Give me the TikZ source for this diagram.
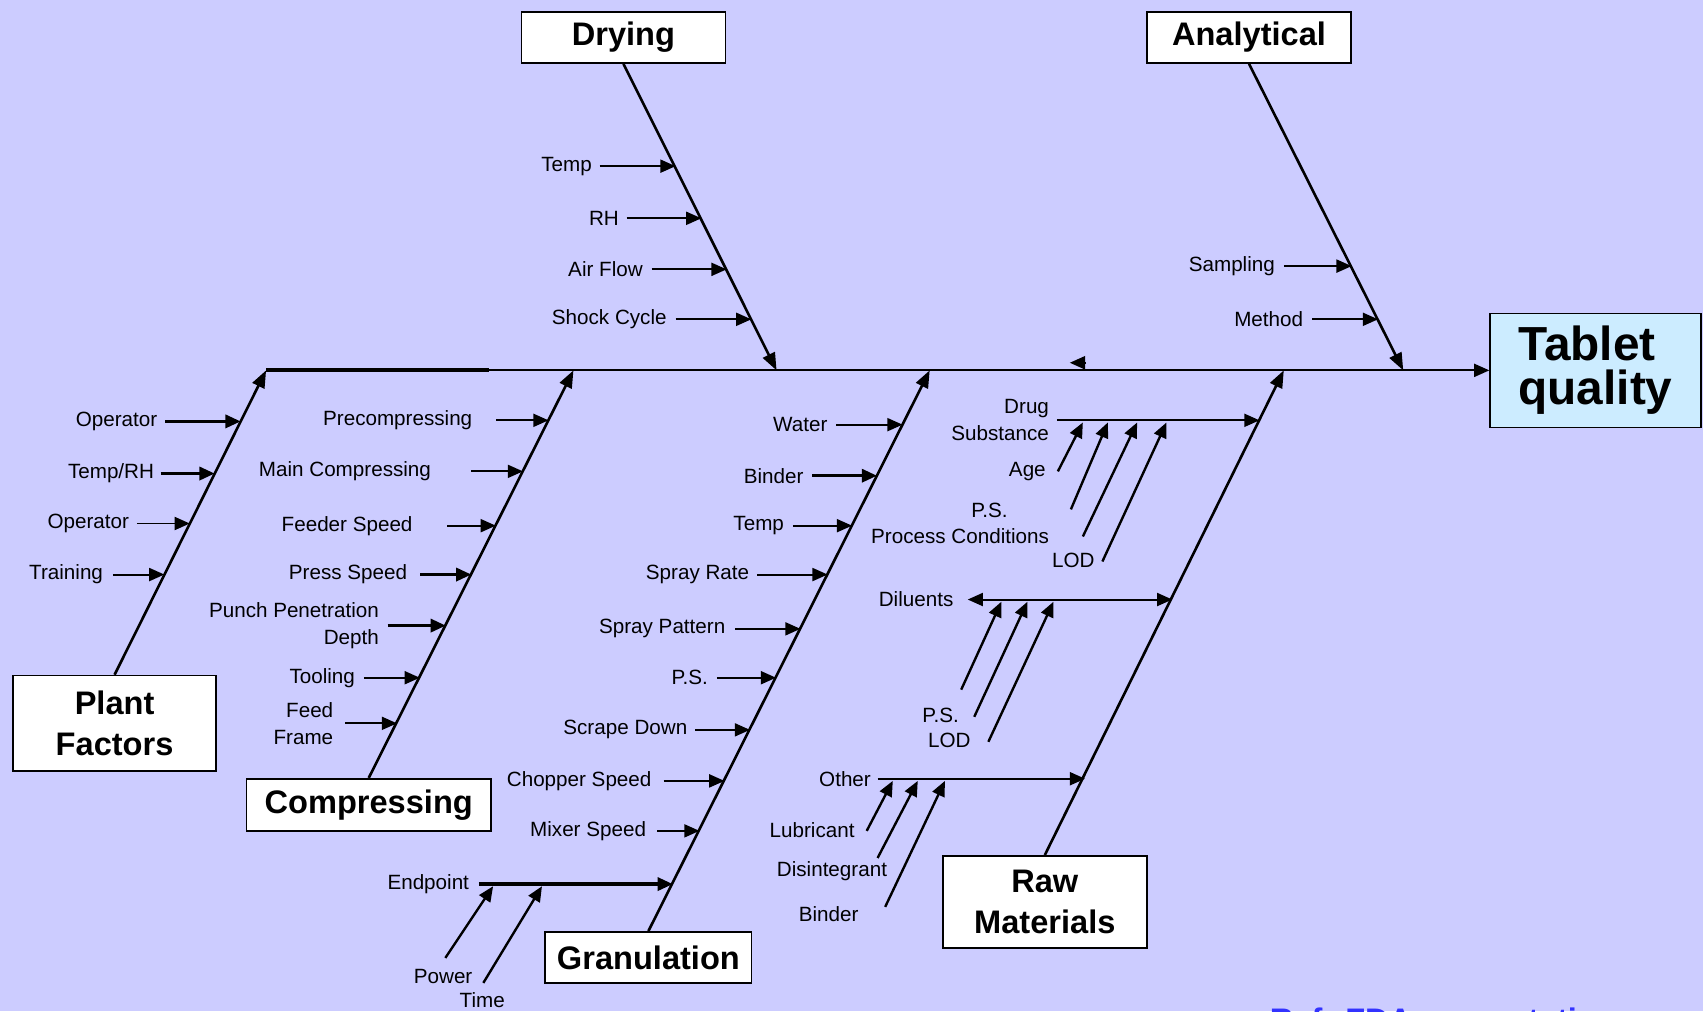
\documentclass[tikz,border=0pt]{standalone}
\usepackage{fontspec}
\setmainfont{Liberation Sans}
\usetikzlibrary{arrows.meta, calc}
\definecolor{bgblue}{RGB}{204,204,255}
\definecolor{goalblue}{RGB}{204,236,255}
\definecolor{refblue}{RGB}{51,51,255}

\begin{document}
\begin{tikzpicture}[
    x=1pt, y=-1pt,
    >={Triangle[length=14pt,width=12pt]},
    arr/.style={->, line width=1.8pt},
    harr/.style={->, line width=3pt},
    darr/.style={<->, line width=1.8pt},
    bone/.style={-{Triangle[length=16pt,width=12pt]}, line width=2.4pt},
    cat/.style={draw, line width=1.5pt, fill=white, inner sep=0pt,
                font=\fontsize{30}{38}\selectfont\bfseries, align=center},
    lbl/.style={inner sep=0pt, font=\fontsize{19}{25}\selectfont, align=right},
]
\useasboundingbox (0,0) rectangle (1568,931);
\fill[bgblue] (0,0) rectangle (1568,931);

% effect and categories
\node[draw, line width=1.5pt, fill=goalblue, minimum width=194pt, minimum height=105pt,
      font=\fontsize{44}{41}\selectfont\bfseries, align=left] (tq) at (1469,341) {Tablet\\quality};
\node[cat, minimum width=188pt, minimum height=47pt] (dr) at (574,34.5) {Drying};
\node[cat, minimum width=188pt, minimum height=47pt] (an) at (1150,34.5) {Analytical};
\node[cat, minimum width=187pt, minimum height=88pt] (pf) at (105.5,666) {Plant\\Factors};
\node[cat, minimum width=225pt, minimum height=48pt] (co) at (339.5,741) {Compressing};
\node[cat, minimum width=190pt, minimum height=47pt] (gr) at (597,881.5) {Granulation};
\node[cat, minimum width=188pt, minimum height=85pt] (rm) at (962,830.5) {Raw\\Materials};

% spine and bones
\coordinate (pf-top) at (245,341);
\coordinate (co-top) at (528,341);
\coordinate (dr-top) at (715,341);
\coordinate (gr-top) at (856,341);
\coordinate (rm-top) at (1182,341);
\coordinate (an-top) at (1292,341);
\coordinate (sp-end) at (450,341);
\draw[arr] (pf-top) -- (tq.west);
\draw[line width=3.5pt] (pf-top) -- (sp-end);
\coordinate (sp-a) at (1000,334);
\coordinate (sp-b) at (985,334);
\draw[arr] (sp-a) -- (sp-b);
\draw[bone] (pf.north) -- (pf-top);
\draw[bone] (co.north) -- (co-top);
\draw[bone] (gr.north) -- (gr-top);
\draw[bone] (rm.north) -- (rm-top);
\draw[bone] (dr.south) -- (dr-top);
\draw[bone] (an.south) -- (an-top);

% Plant Factors
\foreach \n/\txt/\xl/\xs/\y/\st in {a/Operator/145/152/388/harr, b/{Temp/RH}/142/148/436/harr,
    c/Operator/119/126/482/arr, d/Training/95/104/529/arr} {
  \node[lbl, anchor=east] (pfl-\n) at (\xl,\y) {\txt};
  \pgfmathsetmacro{\bx}{245-(\y-341)*0.49822}
  \coordinate (pf-\n) at (\bx,\y);
  \draw[\st, shorten <=\xs-\xl] (pfl-\n.east) -- (pf-\n);
}

% Compressing
\foreach \n/\txt/\xl/\xs/\y/\st in {a/Precompressing/435/457/387/arr,
    b/Main Compressing/397/434/434/arr, c/Feeder Speed/380/412/484/arr,
    d/Press Speed/375/387/529/harr, e/{Punch Penetration\\Depth}/349/357/576/harr,
    f/Tooling/327/335/624/arr, g/{Feed\\Frame}/307/318/666/arr} {
  \node[lbl, anchor=east] (col-\n) at (\xl,\y) {\txt};
  \pgfmathsetmacro{\bx}{528-(\y-341)/2}
  \coordinate (co-\n) at (\bx,\y);
  \draw[\st, shorten <=\xs-\xl] (col-\n.east) -- (co-\n);
}

% Drying
\foreach \n/\txt/\xl/\xs/\y in {a/Temp/545/552/153, b/RH/570/577/201,
    c/Air Flow/592/600/248, d/Shock Cycle/614/622/294} {
  \node[lbl, anchor=east] (drl-\n) at (\xl,\y) {\txt};
  \pgfmathsetmacro{\bx}{715-(341-\y)*0.4947}
  \coordinate (dr-\n) at (\bx,\y);
  \draw[arr, shorten <=\xs-\xl] (drl-\n.east) -- (dr-\n);
}

% Analytical
\foreach \n/\txt/\xl/\xs/\y in {a/Sampling/1174/1182/245, b/Method/1200/1208/294} {
  \node[lbl, anchor=east] (anl-\n) at (\xl,\y) {\txt};
  \pgfmathsetmacro{\bx}{1292-(341-\y)*0.4947}
  \coordinate (an-\n) at (\bx,\y);
  \draw[arr, shorten <=\xs-\xl] (anl-\n.east) -- (an-\n);
}

% Granulation
\foreach \n/\txt/\xl/\xs/\y/\st in {a/Water/762/770/391/arr, b/Binder/740/748/438/harr,
    c/Temp/722/730/484/arr, d/Spray Rate/690/697/529/arr, e/Spray Pattern/668/677/579/arr,
    f/P.S./652/660/624/arr, g/Scrape Down/633/640/672/arr, h/Chopper Speed/600/611/719/arr,
    i/Mixer Speed/595/605/765/arr, j/Endpoint/432/441/814/harr} {
  \node[lbl, anchor=east] (grl-\n) at (\xl,\y) {\txt};
  \pgfmathsetmacro{\bx}{856-(\y-341)/2}
  \coordinate (gr-\n) at (\bx,\y);
  \draw[\st, shorten <=\xs-\xl] (grl-\n.east) -- (gr-\n);
}
\foreach \n/\tx/\ty/\hx in {a/410/882/454, b/445/905/499} {
  \coordinate (ep-t\n) at (\tx,\ty);
  \coordinate (ep-h\n) at (\hx,816);
  \draw[arr, line width=2.2pt] (ep-t\n) -- (ep-h\n);
}
\node[lbl] (power) at (408,899) {Power};
\node[lbl] (time) at (444,921) {Time};

% Raw Materials
\foreach \n/\txt/\xl/\xs/\y/\st in {a/{Drug\\Substance}/966/973/387/arr,
    b/Diluents/878/891/552/darr, c/Other/802/808/717/arr} {
  \node[lbl, anchor=east] (rml-\n) at (\xl,\y) {\txt};
  \pgfmathsetmacro{\bx}{1182-(\y-341)*0.48655}
  \coordinate (rm-\n) at (\bx,\y);
  \draw[\st, shorten <=\xs-\xl] (rml-\n.east) -- (rm-\n);
}
\foreach \n/\tx/\ty/\hx in {a/974/434/997, b/986/469/1020, c/997/494/1047, d/1015/517/1074} {
  \coordinate (ds-t\n) at (\tx,\ty);
  \coordinate (ds-h\n) at (\hx,389);
  \draw[arr, line width=2.2pt] (ds-t\n) -- (ds-h\n);
}
\node[lbl, anchor=east] (age) at (963,434) {Age};
\node[lbl] (dsps) at (911,470) {P.S.};
\node[lbl] (proc) at (884,494) {Process Conditions};
\node[lbl, anchor=east] (dslod) at (1008,516) {LOD};
\foreach \n/\tx/\ty/\hx in {a/885/635/922, b/897/660/946, c/910/683/970} {
  \coordinate (dl-t\n) at (\tx,\ty);
  \coordinate (dl-h\n) at (\hx,554);
  \draw[arr, line width=2.2pt] (dl-t\n) -- (dl-h\n);
}
\node[lbl] (dlps) at (866,659) {P.S.};
\node[lbl] (dllod) at (874,682) {LOD};
\foreach \n/\tx/\ty/\hx in {a/798/765/822, b/808/790/845, c/815/835/870} {
  \coordinate (ot-t\n) at (\tx,\ty);
  \coordinate (ot-h\n) at (\hx,719);
  \draw[arr, line width=2.2pt] (ot-t\n) -- (ot-h\n);
}
\node[lbl, anchor=east] (lub) at (787,764) {Lubricant};
\node[lbl] (dis) at (766,802) {Disintegrant};
\node[lbl] (bnd) at (763,842) {Binder};

% source line, cut by the page edge
\node[anchor=north west, inner sep=0pt, text=refblue,
      font=\fontsize{30}{30}\selectfont\bfseries] (ref) at (1169,928) {Ref: FDA presentation};
\end{tikzpicture}
\end{document}
